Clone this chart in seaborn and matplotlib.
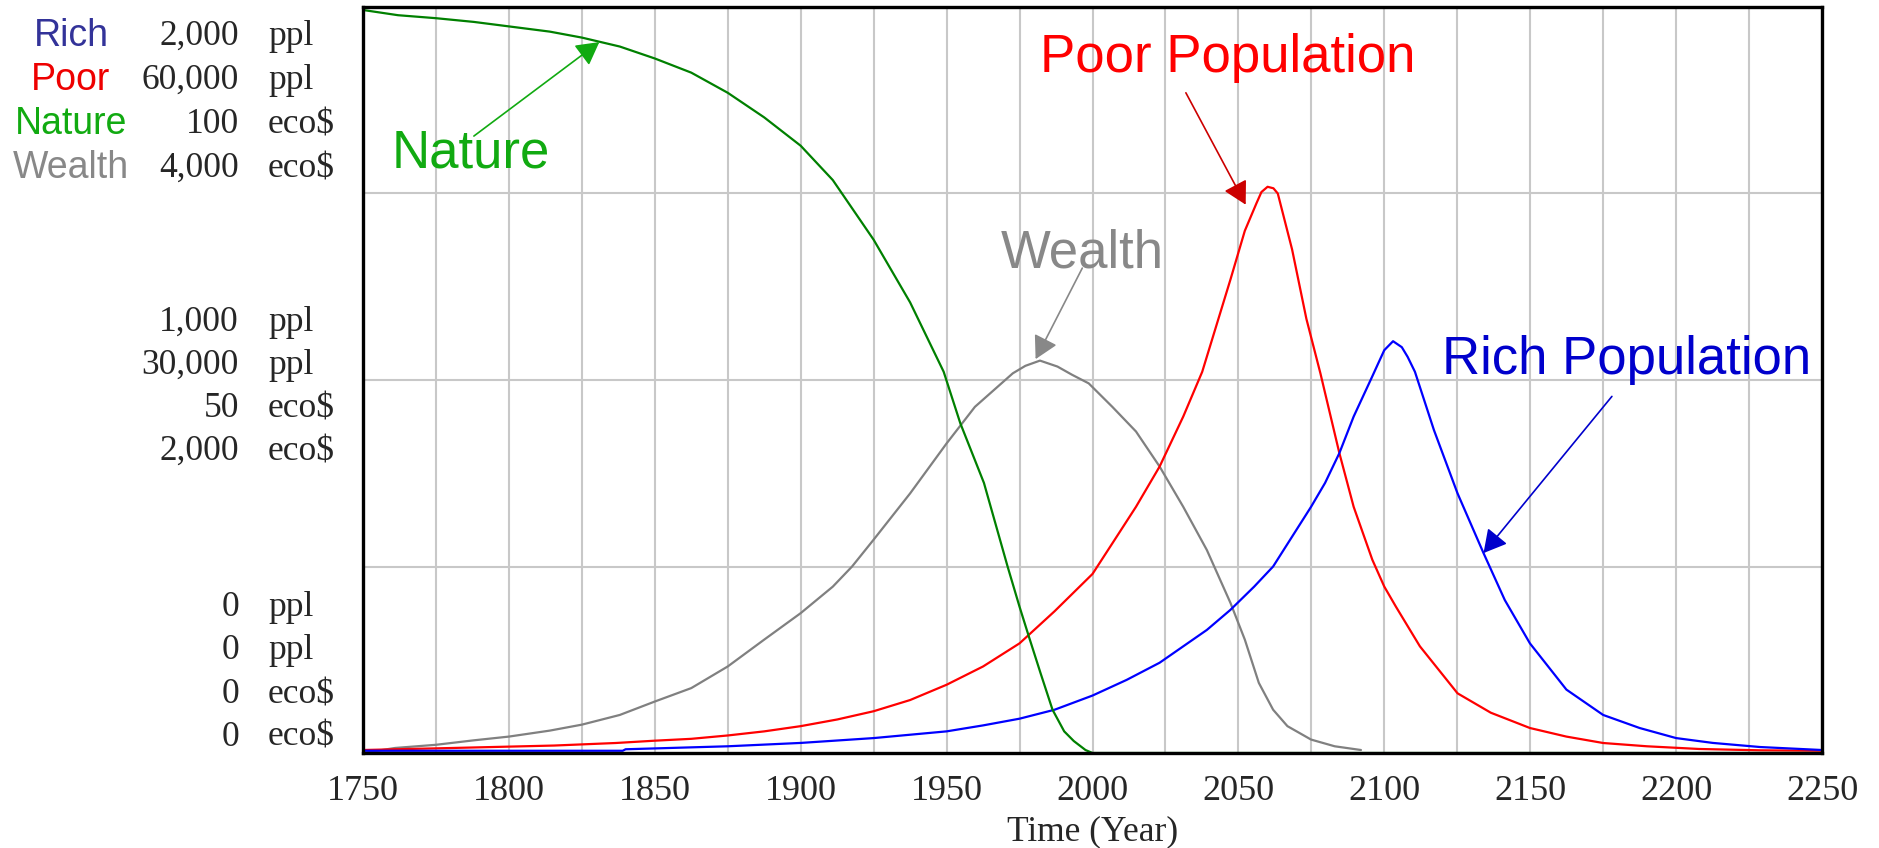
import numpy as np
import matplotlib
matplotlib.use("Agg")
import matplotlib.pyplot as plt
import seaborn as sns

# scale maxima of the four y axes
rich_max = 2000
poor_max = 60000
nature_max = 100
wealth_max = 4000

# Rich population (ppl)
rich_years = [1750, 1839, 1840, 1875, 1900, 1925, 1950, 1962.5, 1975, 1987, 2000,
              2011.7, 2023, 2031.1, 2039.2, 2047.3, 2055.4, 2061.9, 2068.4, 2074.9,
              2079.7, 2084.6, 2089.5, 2095.9, 2098, 2100, 2103, 2106, 2108, 2110.5,
              2117, 2125.1, 2134, 2141.3, 2149.9, 2162.4, 2175, 2187.5, 2200, 2212.6,
              2228.8, 2250]
rich_vals = [6, 6, 10, 18, 27, 40, 58, 74, 92, 116, 154,
             196, 242, 286, 330, 384, 446, 500, 580, 660,
             724, 804, 902, 1010, 1046, 1080, 1104, 1088, 1062, 1022,
             866, 696, 536, 410, 294, 170, 102, 67, 40, 27,
             16, 8]

# Poor population (ppl)
poor_years = [1750, 1780, 1815.5, 1836.6, 1850, 1862.5, 1875, 1887.5, 1900, 1912.6,
              1925, 1937.5, 1950, 1962.5, 1975, 1987, 2000, 2006.8, 2014.9, 2023,
              2031.1, 2037.6, 2047.3, 2052.2, 2056.2, 2057.9, 2060, 2062, 2063.5,
              2068.4, 2073.3, 2078.1, 2084.6, 2089.5, 2095.9, 2100, 2104, 2112.2,
              2125.1, 2136.5, 2149.9, 2162.4, 2175, 2190, 2207.8, 2228.8, 2250]
poor_vals = [240, 400, 600, 804, 990, 1140, 1410, 1740, 2160, 2700,
             3360, 4260, 5490, 6960, 8820, 11400, 14400, 16860, 19800, 23040,
             27060, 30660, 38100, 42000, 44220, 45120, 45540, 45420, 45000,
             40500, 34920, 30540, 24120, 19800, 15540, 13380, 11760, 8580,
             4800, 3240, 2010, 1320, 804, 540, 324, 216, 180]

# Nature (eco$)
nature_years = [1750, 1762, 1775, 1788, 1800, 1814, 1825, 1838, 1850, 1862.5,
                1875, 1887.5, 1900, 1911, 1925, 1937.5, 1949, 1954.7, 1962.8, 1970.9,
                1975, 1978.2, 1982.2, 1986.3, 1990.3, 1993.6, 1997.6, 2000, 2250]
nature_vals = [99.6, 98.9, 98.5, 98.0, 97.4, 96.7, 95.9, 94.7, 93.1, 91.2,
               88.5, 85.2, 81.4, 76.8, 68.8, 60.4, 51.1, 44.2, 36.2, 25.0,
               19.6, 15.6, 10.7, 5.8, 2.9, 1.6, 0.4, 0, 0]

# Wealth (eco$)
wealth_years = [1750, 1761, 1775, 1788, 1800, 1814, 1825, 1838, 1850, 1862.5,
                1875, 1887.5, 1900, 1911, 1917.6, 1925, 1937.5, 1950, 1959.7, 1972.7,
                1977, 1982, 1988, 1993, 1998.7, 2006.8, 2014.9, 2023, 2031.1, 2039.2,
                2047.3, 2052.2, 2057, 2061.9, 2066.8, 2074.9, 2083, 2092]
wealth_vals = [0, 27, 44, 68, 88, 120, 152, 204, 276, 348,
               464, 608, 750, 892, 1000, 1144, 1392, 1660, 1856, 2036,
               2076, 2104, 2072, 2028, 1982, 1856, 1724, 1536, 1320, 1088,
               804, 608, 376, 232, 144, 72, 36, 16]

axis_rows = [
    ("Rich", "#333399", ["2,000", "1,000", "0"], "ppl"),
    ("Poor", "#ee0000", ["60,000", "30,000", "0"], "ppl"),
    ("Nature", "#11aa11", ["100", "50", "0"], "eco$"),
    ("Wealth", "#888888", ["4,000", "2,000", "0"], "eco$"),
]

sns.set_style("white")
plt.rcParams["font.family"] = ["Liberation Sans", "DejaVu Sans"]

W, H = 1879, 848
fig = plt.figure(figsize=(W / 100, H / 100), dpi=100)
ax = fig.add_axes([363 / W, 1 - 753 / H, (1822 - 363) / W, (753 - 7) / H])

sns.lineplot(x=wealth_years, y=np.array(wealth_vals) / wealth_max, ax=ax,
             color="#808080", linewidth=1.6)
sns.lineplot(x=poor_years, y=np.array(poor_vals) / poor_max, ax=ax,
             color="#ff0000", linewidth=1.6)
sns.lineplot(x=rich_years, y=np.array(rich_vals) / rich_max, ax=ax,
             color="#0000ff", linewidth=1.6)
sns.lineplot(x=nature_years, y=np.array(nature_vals) / nature_max, ax=ax,
             color="#008000", linewidth=1.6)

ax.set_xlim(1750, 2250)
ax.set_ylim(0, 1)
ax.set_xticks(np.arange(1750, 2251, 50))
ax.set_xticks(np.arange(1775, 2251, 50), minor=True)
ax.set_yticks([0.25, 0.5, 0.75])
ax.set_yticklabels([])
ax.grid(True, which="both", color="#c8c8c8", linewidth=1.5)
ax.tick_params(axis="both", which="both", length=0)
ax.tick_params(axis="x", pad=16)
for lab in ax.get_xticklabels():
    lab.set_fontfamily("Liberation Serif")
    lab.set_fontsize(26)
ax.set_xlabel("Time (Year)", fontfamily="Liberation Serif", fontsize=25.5, labelpad=5)
for sp in ax.spines.values():
    sp.set_visible(True)
    sp.set_color("black")
    sp.set_linewidth(2.4)

# left stacked axis labels
block_rows = [[34, 78, 122, 166], [320, 363, 406, 449], [605, 648, 692, 735]]
for i, (name, col, vals, unit) in enumerate(axis_rows):
    fig.text(71 / W, 1 - (block_rows[0][i] + 12) / H, name, color=col,
             fontsize=27, ha="center", va="baseline")
    for b in range(3):
        yb = 1 - (block_rows[b][i] + 11) / H
        fig.text(239 / W, yb, vals[b], fontfamily="Liberation Serif",
                 fontsize=25.5, ha="right", va="baseline")
        fig.text(268 / W, yb, unit, fontfamily="Liberation Serif",
                 fontsize=25.5, ha="left", va="baseline")

# callouts
callouts = [
    ("Nature", "#11aa11", "#11aa11", (1787, 0.803), (1788, 0.827), (1831, 0.953)),
    ("Poor Population", "#ff0000", "#cc0000", (2046.5, 0.932), (2032, 0.885), (2052.5, 0.735)),
    ("Wealth", "#888888", "#888888", (1996.5, 0.67), (1996.5, 0.65), (1980.5, 0.528)),
    ("Rich Population", "#0000cc", "#0000cc", (2183, 0.527), (2178, 0.478), (2134, 0.268)),
]
for text, tcol, acol, tpos, tail, tip in callouts:
    ax.text(tpos[0], tpos[1], text, color=tcol, fontsize=38, ha="center", va="center")
    ax.annotate("", xy=tip, xytext=tail,
                arrowprops=dict(arrowstyle="-|>,head_length=0.4,head_width=0.22",
                                mutation_scale=35, color=acol, lw=1.2,
                                shrinkA=0, shrinkB=0))

fig.savefig("out.png", dpi=100)
